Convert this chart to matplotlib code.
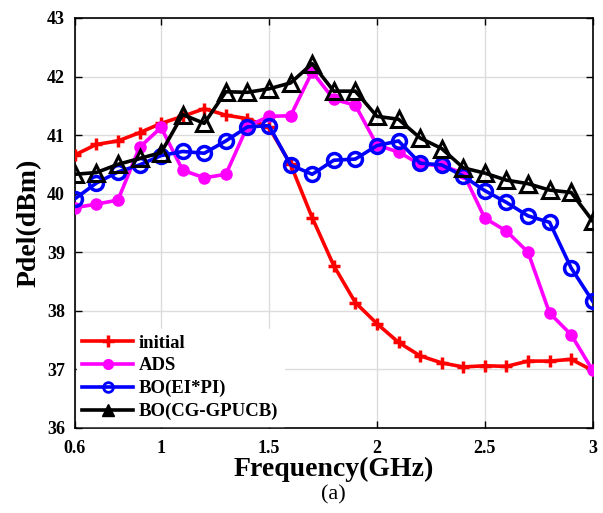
import matplotlib
matplotlib.use("Agg")
import matplotlib.pyplot as plt
from matplotlib.lines import Line2D

freq = [0.6, 0.7, 0.8, 0.9, 1.0, 1.1, 1.2, 1.3, 1.4, 1.5, 1.6, 1.7, 1.8,
        1.9, 2.0, 2.1, 2.2, 2.3, 2.4, 2.5, 2.6, 2.7, 2.8, 2.9, 3.0]
initial = [40.66, 40.84, 40.90, 41.04, 41.20, 41.32, 41.45, 41.34, 41.28, 41.13,
           40.50, 39.59, 38.77, 38.14, 37.78, 37.46, 37.23, 37.11, 37.04, 37.06,
           37.05, 37.14, 37.14, 37.17, 36.98]
ads = [39.76, 39.82, 39.89, 40.79, 41.13, 40.40, 40.27, 40.33, 41.15, 41.32,
       41.33, 42.08, 41.61, 41.51, 40.83, 40.71, 40.50, 40.48, 40.35, 39.58,
       39.36, 39.00, 37.96, 37.59, 36.98]
bo_eipi = [39.91, 40.18, 40.37, 40.49, 40.65, 40.72, 40.69, 40.90, 41.14, 41.16,
           40.49, 40.33, 40.57, 40.59, 40.82, 40.90, 40.52, 40.49, 40.30, 40.05,
           39.85, 39.62, 39.51, 38.73, 38.16]
bo_cg = [40.33, 40.36, 40.50, 40.60, 40.70, 41.35, 41.20, 41.74, 41.73, 41.79,
         41.89, 42.22, 41.75, 41.75, 41.32, 41.27, 40.95, 40.77, 40.44, 40.35,
         40.23, 40.17, 40.06, 40.02, 39.53]
labels = ["initial", "ADS", "BO(EI*PI)", "BO(CG-GPUCB)"]
xticks = [0.6, 1, 1.5, 2, 2.5, 3]
xticklabels = ["0.6", "1", "1.5", "2", "2.5", "3"]
yticks = [36, 37, 38, 39, 40, 41, 42, 43]

plt.rcParams['font.family'] = ['Liberation Serif', 'DejaVu Serif']
plt.rcParams['font.weight'] = 'bold'

fig = plt.figure(figsize=(6.03, 5.13), dpi=100)
ax = fig.add_axes([0.124, 0.166, 0.859, 0.799])

lw = 2.6
ax.plot(freq, initial, color='#ff0000', lw=lw, marker='+', ms=9, mew=2.5, zorder=3)
ax.plot(freq, ads, color='#ff00ff', lw=lw, marker='o', ms=8, mfc='#ff00ff', mec='#ff00ff', zorder=4)
ax.plot(freq, bo_eipi, color='#0000ff', lw=lw, marker='o', ms=10, mfc='none', mew=2.5, zorder=5)
ax.plot(freq, bo_cg, color='black', lw=lw, marker='^', ms=11, mfc='none', mew=2.2, zorder=6)

ax.set_xlim(0.6, 3)
ax.set_ylim(36, 43)
ax.set_xticks(xticks)
ax.set_xticklabels(xticklabels)
ax.set_yticks(yticks)
ax.grid(True, color='#dcdcdc', lw=1)
ax.set_axisbelow(True)
ax.tick_params(direction='in', top=True, right=True, labelsize=13, length=5, width=1)
ax.tick_params(axis='x', pad=9)
ax.tick_params(axis='y', pad=7)
for lab in ax.get_xticklabels() + ax.get_yticklabels():
    lab.set_fontweight('bold')
for s in ax.spines.values():
    s.set_linewidth(1.2)

ax.set_xlabel("Frequency(GHz)", fontsize=20, fontweight='bold', labelpad=0)
ax.set_ylabel("Pdel(dBm)", fontsize=20, fontweight='bold', labelpad=4)

handles = [
    Line2D([], [], color='#ff0000', lw=lw, marker='+', ms=8, mew=2.5),
    Line2D([], [], color='#ff00ff', lw=lw, marker='o', ms=7, mfc='#ff00ff'),
    Line2D([], [], color='#0000ff', lw=lw, marker='o', ms=7, mfc='none', mew=2),
    Line2D([], [], color='black', lw=lw, marker='^', ms=9, mfc='black'),
]
leg = ax.legend(handles, labels, loc='lower left', frameon=True, fontsize=13.5,
                handlelength=2.7, borderaxespad=0.1, labelspacing=0.3,
                handletextpad=0.3, borderpad=0.3, fancybox=False)
leg.get_frame().set_edgecolor('white')
leg.get_frame().set_alpha(1.0)
leg.set_zorder(10)
for t in leg.get_texts():
    t.set_fontweight('bold')

fig.text(0.5 * (0.124 + 0.983), 0.035, "(a)", ha='center', va='center',
         fontsize=16, fontweight='normal')

fig.savefig("out.png", dpi=100)
